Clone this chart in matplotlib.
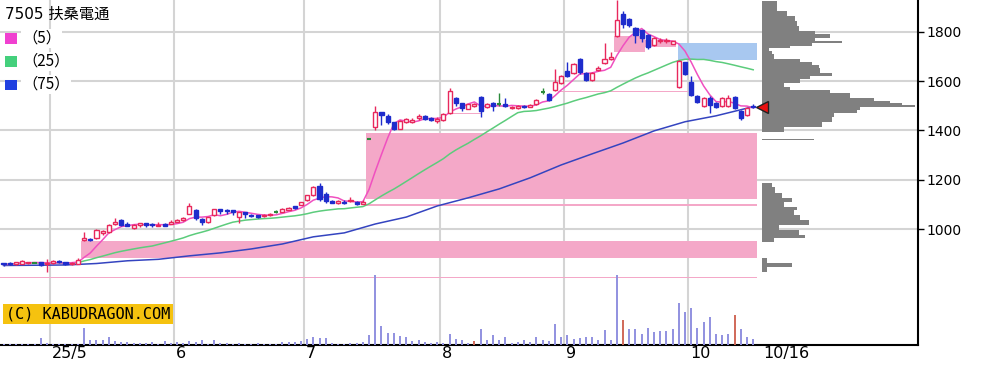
import numpy as np
import pandas as pd
import matplotlib
matplotlib.use('Agg')
import matplotlib.pyplot as plt
from matplotlib.patches import Rectangle

plt.rcParams['font.family'] = ['DejaVu Sans', 'Noto Sans CJK JP']

# --- daily bars, Apr 2025 .. 10/16 ---
opens = [862, 862, 858, 860, 862, 864, 866, 858, 862, 872, 866, 858, 860,
         958, 962, 966, 984, 990, 1022, 1036, 1020, 1004, 1018, 1024, 1022, 1014, 1020, 1022,
         1030, 1036, 1062, 1078, 1040, 1030, 1058, 1080, 1078, 1076, 1050, 1068, 1058, 1056,
         1052, 1056, 1068, 1070, 1078, 1092, 1098,
         1118, 1138, 1176, 1144, 1116, 1104, 1112, 1114, 1112, 1102, 1366, 1412, 1473, 1460,
         1432, 1406, 1434, 1436, 1450, 1458, 1450, 1440,
         1442, 1470, 1530, 1510, 1488, 1500, 1535, 1496, 1512, 1506, 1506, 1490, 1492, 1500,
         1496, 1506, 1555, 1548, 1562, 1592,
         1642, 1634, 1690, 1634, 1604, 1644, 1671, 1690, 1784, 1870, 1850, 1815, 1805, 1785,
         1744, 1760, 1760, 1750, 1575, 1675,
         1595, 1540, 1500, 1530, 1510, 1497, 1498, 1534, 1480, 1462, 1500]
highs = [864, 866, 868, 874, 868, 866, 868, 880, 874, 875, 868, 866, 882,
         990, 966, 1000, 998, 1020, 1044, 1040, 1030, 1020, 1026, 1026, 1024, 1028, 1024, 1036,
         1040, 1048, 1104, 1080, 1046, 1050, 1082, 1082, 1080, 1078, 1070, 1070, 1060, 1058,
         1062, 1064, 1076, 1084, 1088, 1094, 1112,
         1140, 1176, 1186, 1150, 1118, 1118, 1120, 1132, 1116, 1120, 1366, 1497, 1476, 1466,
         1434, 1442, 1449, 1450, 1466, 1462, 1456, 1456,
         1470, 1572, 1534, 1512, 1508, 1512, 1540, 1510, 1516, 1550, 1530, 1500, 1502, 1504,
         1508, 1528, 1572, 1550, 1650, 1624,
         1675, 1674, 1694, 1638, 1638, 1660, 1752, 1716, 1930, 1885, 1856, 1820, 1808, 1790,
         1780, 1776, 1774, 1762, 1685, 1678,
         1622, 1544, 1534, 1538, 1514, 1534, 1542, 1538, 1484, 1494, 1506]
lows = [852, 855, 856, 858, 860, 862, 852, 826, 860, 862, 856, 856, 858,
        953, 953, 962, 976, 985, 1016, 1014, 1012, 1000, 1010, 1010, 1008, 1012, 1012, 1020,
        1028, 1034, 1060, 1036, 1018, 1026, 1055, 1060, 1060, 1058, 1026, 1046, 1048, 1046,
        1048, 1052, 1064, 1068, 1076, 1082, 1096,
        1116, 1136, 1116, 1108, 1104, 1102, 1100, 1110, 1096, 1100, 1366, 1400, 1420, 1425,
        1400, 1404, 1430, 1430, 1444, 1444, 1440, 1430,
        1440, 1468, 1500, 1480, 1486, 1496, 1456, 1492, 1478, 1500, 1494, 1486, 1488, 1490,
        1494, 1504, 1548, 1518, 1558, 1588,
        1616, 1630, 1630, 1598, 1600, 1640, 1668, 1686, 1780, 1815, 1820, 1752, 1756, 1730,
        1740, 1752, 1754, 1748, 1572, 1625,
        1538, 1510, 1496, 1472, 1490, 1494, 1494, 1486, 1444, 1458, 1490]
closes = [857, 858, 866, 872, 866, 864, 855, 864, 870, 866, 858, 864, 876,
          964, 956, 996, 994, 1016, 1030, 1016, 1014, 1016, 1024, 1018, 1016, 1018, 1014, 1028,
          1036, 1044, 1092, 1044, 1028, 1048, 1080, 1072, 1072, 1070, 1068, 1060, 1052, 1050,
          1058, 1062, 1068, 1082, 1084, 1086, 1110,
          1138, 1170, 1124, 1116, 1106, 1116, 1108, 1120, 1100, 1112, 1366, 1473, 1462, 1432,
          1405, 1440, 1446, 1444, 1458, 1448, 1444, 1448,
          1468, 1560, 1512, 1490, 1506, 1508, 1478, 1506, 1500, 1506, 1498, 1496, 1498, 1494,
          1504, 1524, 1555, 1522, 1596, 1620,
          1620, 1670, 1636, 1604, 1634, 1652, 1691, 1696, 1845, 1832, 1825, 1785, 1776, 1736,
          1776, 1766, 1766, 1760, 1683, 1630,
          1542, 1515, 1530, 1502, 1494, 1530, 1532, 1490, 1450, 1490, 1494]
volumes = [1, 1, 1, 1, 1, 1, 7, 2, 1, 1, 1, 1, 1,
           17, 5, 5, 5, 8, 4, 3, 3, 2, 2, 2, 3, 1, 4, 2,
           3, 2, 4, 3, 5, 1, 5, 2, 2, 1, 2, 1, 1, 2, 1, 1, 1, 3, 3, 3, 4,
           6, 8, 7, 7, 2, 1, 1, 2, 2, 3, 10, 70, 19, 12, 12, 9, 8, 4, 5, 3, 2, 3,
           2, 11, 6, 5, 2, 4, 16, 5, 10, 5, 8, 2, 3, 5, 3, 8, 5, 4, 21, 8,
           10, 6, 7, 8, 8, 5, 15, 5, 70, 25, 16, 16, 11, 17, 13, 14, 14, 16, 42, 33,
           37, 17, 23, 28, 11, 10, 11, 30, 16, 8, 6]
red_volume_days = [76, 100, 118]

# 75-day average as drawn (its window reaches back before the first bar shown)
ma75_bar = [0, 5, 10, 15, 20, 25, 30, 35, 40, 45, 50, 55, 60,
            65, 70, 75, 80, 85, 90, 95, 100, 105, 110, 115, 121]
ma75_val = [853, 854, 855, 861, 872, 878, 892, 904, 920, 940, 969, 985, 1021,
            1049, 1094, 1127, 1163, 1208, 1260, 1305, 1349, 1398, 1435, 1459, 1496]

month_first_bar = [8, 28, 49, 71, 91, 111]
month_labels = ['25/5', '6', '7', '8', '9', '10']
last_label = '10/16'

# open price windows (gaps): start bar, end bar, low, high
gap_start = [12.5, 58.5, 58.5, -0.6, 98.5, 103.5, 89.5, 71.5]
gap_end = [121.6, 121.6, 121.6, 121.6, 103.5, 108.6, 110.4, 77.0]
gap_low = [883, 1122, 1095, 803, 1716, 1736, 1555, 1465]
gap_high = [952, 1388, 1100, 808, 1784, 1768, 1561, 1470]
down_gap = [108.8, 121.6, 1685, 1752]

# volume-at-price profile
prof_low = [1885, 1865, 1844, 1824, 1804, 1792, 1776, 1764, 1752, 1743, 1735, 1723,
            1711, 1691, 1675, 1663, 1651, 1634, 1622, 1610, 1590, 1574, 1562,
            1550, 1533, 1521, 1509, 1501, 1493, 1481, 1469, 1453, 1432, 1412, 1392,
            1362,
            1170, 1146, 1125, 1109, 1089, 1077, 1057, 1036, 1016, 996, 976, 964, 948,
            863, 847, 826]
prof_high = [1925, 1885, 1865, 1844, 1824, 1804, 1792, 1776, 1764, 1752, 1743, 1735,
             1723, 1711, 1691, 1675, 1663, 1651, 1634, 1622, 1610, 1590, 1574,
             1562, 1550, 1533, 1521, 1509, 1501, 1493, 1481, 1469, 1453, 1432, 1412,
             1366,
             1186, 1170, 1146, 1125, 1109, 1089, 1077, 1057, 1036, 1016, 996, 976, 964,
             883, 863, 847]
prof_vol = [15, 25, 33, 35, 37, 53, 68, 53, 80, 50, 28, 7,
            10, 12, 38, 50, 57, 58, 70, 48, 38, 22, 28,
            68, 88, 112, 128, 140, 153, 98, 95, 72, 70, 60, 22,
            52,
            10, 13, 20, 30, 22, 35, 32, 38, 47, 17, 37, 43, 12,
            5, 30, 5]

RED = '#e8285c'
BLUE = '#1e2ccc'
GREEN = '#2a8a3a'
GRID = '#d4d4d4'
PINK = '#f4a8c8'

W, H = 985, 371
AX_W, AX_H, AX_B = 918, 345, 26

fig = plt.figure(figsize=(W / 100, H / 100), dpi=100)
ax = fig.add_axes([0, AX_B / H, AX_W / W, AX_H / H])
axv = ax.twinx()
n = len(closes)
x = np.arange(n)
ax.set_xlim(-0.57, 147.6)
ax.set_ylim(531, 1928)

# grid
for m in month_first_bar:
    ax.axvline(m - 0.5, color=GRID, lw=1.5, zorder=0.5)
yticks = [1000, 1200, 1400, 1600, 1800]
for yv in yticks:
    ax.axhline(yv, color=GRID, lw=1.5, zorder=0.5)

# windows
for s, e, lo, hi in zip(gap_start, gap_end, gap_low, gap_high):
    ax.add_patch(Rectangle((s, lo), e - s, hi - lo, facecolor=PINK, edgecolor='none', zorder=1))
ax.add_patch(Rectangle((down_gap[0], down_gap[2]), down_gap[1] - down_gap[0],
                       down_gap[3] - down_gap[2], facecolor='#a8c8f0', edgecolor='none', zorder=1))

# moving averages
cl = pd.Series(closes, dtype=float)
ax.plot(ma75_bar, ma75_val, color='#3444c0', lw=1.1, zorder=3)
for win, col in [(25, '#5ccc7c'), (5, '#f050c0')]:
    ax.plot(x, cl.rolling(win, min_periods=1).mean(), color=col, lw=1.1, zorder=3)

# candles
bw = 0.66
for i in range(n):
    o, h, l, c = opens[i], highs[i], lows[i], closes[i]
    if c > o:
        col, face = RED, 'white'
    elif c < o:
        col, face = BLUE, BLUE
    else:
        col, face = GREEN, GREEN
    ax.vlines(i, l, h, color=col, lw=1, zorder=4)
    if c == o:
        ax.hlines(c, i - bw / 2, i + bw / 2, color=col, lw=1.5, zorder=5)
    else:
        ax.add_patch(Rectangle((i - bw / 2, min(o, c)), bw, abs(c - o),
                               facecolor=face, edgecolor=col, lw=1, zorder=5))

# axes styling
ax.set_facecolor('white')
for side in ['left', 'top']:
    ax.spines[side].set_visible(False)
for side in ['right', 'bottom']:
    ax.spines[side].set_linewidth(1.5)
ax.set_xticks([])
ax.yaxis.tick_right()
ax.set_yticks(yticks)
ax.tick_params(axis='y', length=4, width=1, pad=2, labelsize=10)

# month labels
xt = ax.get_xaxis_transform()
for m, lab in zip(month_first_bar, month_labels):
    ax.text(m - 0.2, -0.026, lab, transform=xt, ha='left', va='center', fontsize=11.5)
ax.text(n + 0.6, -0.026, last_label, transform=xt, ha='left', va='center', fontsize=11.5)

# title + legend
def axpos(px, py):
    return px / AX_W, 1 - py / AX_H

ax.text(*axpos(5, 14), '7505 扶桑電通', transform=ax.transAxes, ha='left', va='center',
        fontsize=11, zorder=6)
for k, (lab, col) in enumerate([('（5）', '#f040d0'), ('（25）', '#44d07c'), ('（75）', '#2040e0')]):
    cy = 38.5 + k * 23
    ax.add_patch(Rectangle(axpos(5, cy + 5), 12 / AX_W, 10 / AX_H, transform=ax.transAxes,
                           facecolor=col, edgecolor='none', zorder=6))
    ax.text(*axpos(22, cy), lab, transform=ax.transAxes, ha='left', va='center', fontsize=11,
            family=['Noto Sans CJK JP', 'DejaVu Sans'], zorder=6,
            bbox=dict(facecolor='white', edgecolor='none', pad=1.0))

ax.text(*axpos(6, 314), '(C) KABUDRAGON.COM', transform=ax.transAxes, ha='left', va='center',
        family='DejaVu Sans Mono', fontsize=11, zorder=6,
        bbox=dict(facecolor='#f5c20f', edgecolor='none', pad=2.0))

# volume
axv.set_ylim(0, max(volumes) * AX_H / 70)
vcols = ['#d06858' if i in red_volume_days else '#9090e0' for i in range(n)]
axv.vlines(x, 0, volumes, colors=vcols, lw=1.4)
axv.set_yticks([])
for sp in axv.spines.values():
    sp.set_visible(False)

# volume-at-price profile
axp = fig.add_axes([762 / W, AX_B / H, (AX_W - 762) / W, AX_H / H])
axp.set_ylim(531, 1928)
axp.set_xlim(0, max(prof_vol) * 156 / 153)
axp.barh(prof_low, prof_vol, height=np.array(prof_high) - np.array(prof_low), align='edge',
         color='#808080', edgecolor='none')
axp.plot(n + 0.5, closes[-1], marker='<', ms=9, mfc='#e81010', mec='#202020', mew=1,
         transform=ax.transData, clip_on=False)
axp.patch.set_alpha(0)
axp.axis('off')

fig.savefig('out.png', dpi=100, facecolor='white')
